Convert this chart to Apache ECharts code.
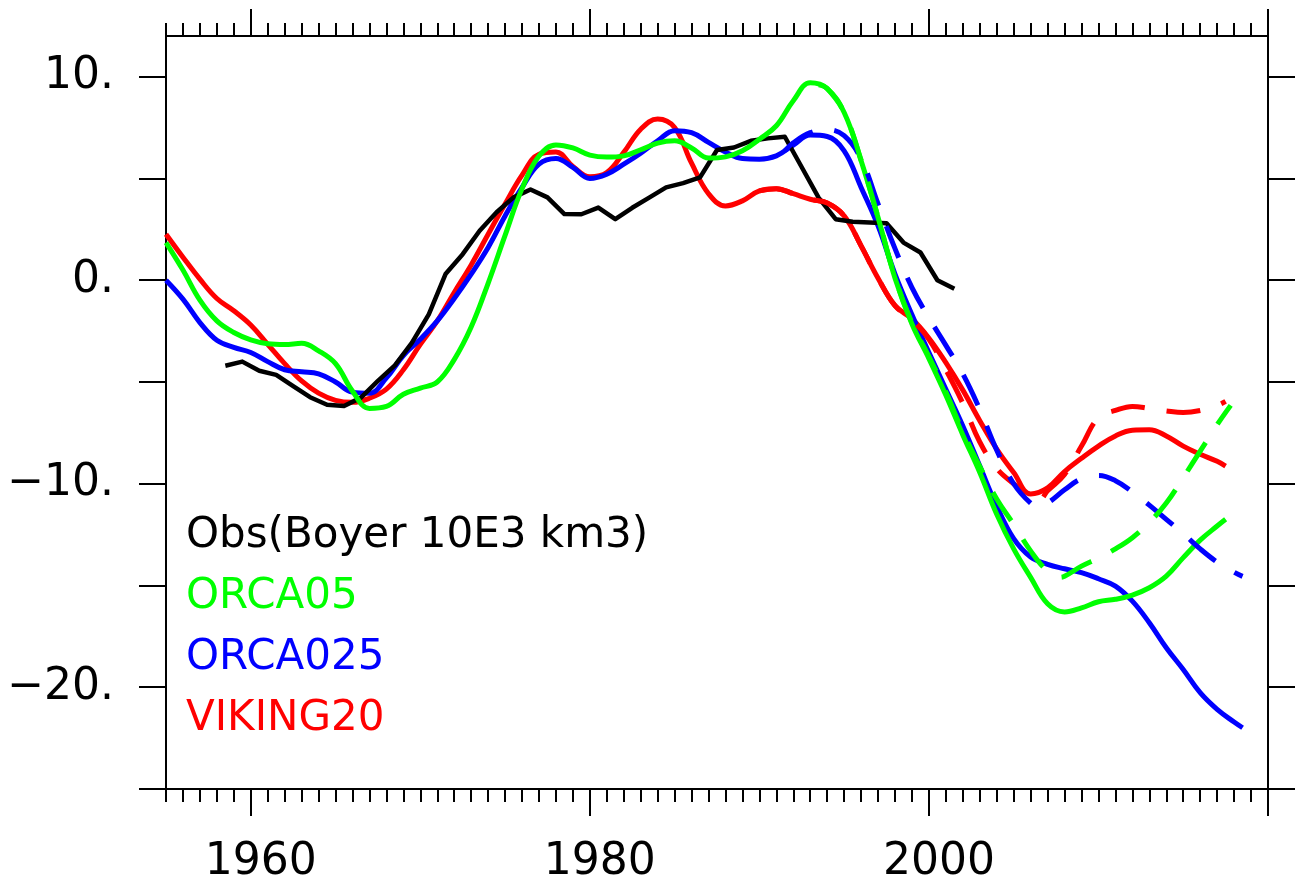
<!DOCTYPE html>
<html><head><meta charset="utf-8">
<script src="https://cdn.jsdelivr.net/npm/echarts@6/dist/echarts.min.js"></script>
<style>html,body{margin:0;padding:0;background:#fff}#c{width:1296px;height:882px}</style>
</head><body><div id="c"></div>
<script>
// ---- data ----
const obsName = 'Obs(Boyer 10E3 km3)';
const obsYears = [1958.5,1959.5,1960.5,1961.5,1962.5,1963.5,1964.5,1965.5,1966.5,1967.5,1968.5,1969.5,1970.5,1971.5,1972.5,1973.5,1974.5,1975.5,1976.5,1977.5,1978.5,1979.5,1980.5,1981.5,1982.5,1983.5,1984.5,1985.5,1986.5,1987.5,1988.5,1989.5,1990.5,1991.5,1992.5,1993.5,1994.5,1995.5,1996.5,1997.5,1998.5,1999.5,2000.5,2001.5];
const obsValues = [-4.2,-4.0,-4.45,-4.65,-5.2,-5.75,-6.12,-6.18,-5.77,-4.95,-4.18,-3.08,-1.68,0.32,1.28,2.43,3.34,4.07,4.46,4.07,3.25,3.24,3.57,3.0,3.56,4.06,4.56,4.77,5.05,6.4,6.52,6.85,6.97,7.05,5.55,4.05,3.0,2.87,2.84,2.8,1.85,1.36,0.0,-0.42];

const years = [1955,1956,1957,1958,1959,1960,1961,1962,1963,1964,1965,1966,1967,1968,1969,1970,1971,1972,1973,1974,1975,1976,1977,1978,1979,1980,1981,1982,1983,1984,1985,1986,1987,1988,1989,1990,1991,1992,1993,1994,1995,1996,1997,1998,1999,2000,2001,2002,2003,2004,2005,2006,2007,2008,2009,2010,2011,2012,2013,2014,2015,2016,2017];

const orca05Years = years.concat([2017.5]);
const orca05Values = [1.85,0.5,-0.98,-2.0,-2.57,-2.93,-3.12,-3.16,-3.1,-3.47,
  -4.1,-5.45,-6.3,-6.2,-5.6,-5.3,-5.0,-3.9,-2.3,-0.15,
  2.2,4.5,6.1,6.65,6.5,6.15,6.05,6.11,6.41,6.74,
  6.85,6.5,6.0,6.06,6.36,6.93,7.59,8.82,9.7,9.42,
  8.24,5.87,3.08,0.1,-2.15,-3.85,-5.65,-7.6,-9.45,-11.5,
  -13.2,-14.6,-15.9,-16.3,-16.1,-15.8,-15.68,-15.47,-15.11,-14.54,
  -13.63,-12.77,-12.08,-11.75];

const orca025Years = years.concat([2018,2018.5]);
const orca025Values = [0.0,-0.93,-2.08,-2.95,-3.3,-3.55,-4.0,-4.4,-4.5,-4.6,
  -5.0,-5.5,-5.55,-4.8,-3.7,-2.9,-2.0,-0.9,0.3,1.61,
  3.16,4.56,5.7,5.98,5.54,5.0,5.21,5.7,6.24,6.85,
  7.35,7.25,6.77,6.3,5.98,5.95,6.11,6.64,7.13,7.06,
  6.36,4.56,2.67,0.3,-1.7,-3.55,-5.36,-7.16,-9.13,-11.1,
  -12.7,-13.6,-13.96,-14.18,-14.37,-14.67,-15.03,-15.77,-16.83,-18.06,
  -19.13,-20.27,-21.09,-21.71,-21.99];

const viking20Years = years.concat([2017.5]);
const viking20Values = [2.26,1.13,0.05,-0.9,-1.5,-2.2,-3.15,-4.1,-4.95,-5.55,
  -5.9,-6.0,-5.8,-5.35,-4.4,-3.15,-2.0,-0.6,0.75,2.26,
  3.74,5.16,6.19,6.3,5.59,5.08,5.29,6.28,7.42,7.92,
  7.5,5.75,4.25,3.65,3.9,4.39,4.5,4.25,3.98,3.79,
  3.16,1.69,0.1,-1.25,-1.9,-2.85,-4.05,-5.4,-6.9,-8.3,
  -9.45,-10.5,-10.2,-9.4,-8.75,-8.15,-7.65,-7.37,-7.35,-7.65,
  -8.15,-8.55,-8.9,-9.13];

const orca05bYears = [1993.5,1994,1995,1996,1997,1998,1999,2000,2001,2002,2003,2004,2005,2006,2007,2007.7,2008,2009,2010,2011,2012,2013,2014,2015,2016,2017,2017.8];
const orca05bValues = [9.6,9.42,8.24,5.9,3.1,0.15,-2.1,-3.75,-5.5,-7.45,-9.15,-10.75,-12.0,-13.3,-14.3,-14.6,-14.55,-14.05,-13.65,-13.2,-12.65,-11.9,-10.95,-9.7,-8.4,-7.1,-6.15];

const orca025bYears = [1991.5,1992,1993,1994,1995,1996,1997,1998,1999,2000,2001,2002,2003,2004,2005,2006,2006.5,2007,2008,2009,2010,2011,2012,2013,2014,2015,2016,2017,2018,2018.5];
const orca025bValues = [6.35,6.75,7.25,7.4,7.1,5.95,3.75,1.55,-0.36,-1.85,-3.2,-4.6,-6.35,-8.35,-10.0,-10.95,-11.1,-10.95,-10.3,-9.75,-9.6,-9.85,-10.4,-11.05,-11.75,-12.45,-13.2,-13.85,-14.35,-14.55];

const viking20bYears = [1990,1991,1992,1993,1994,1995,1996,1997,1998,1999,2000,2001,2002,2003,2004,2005,2006,2006.5,2007,2008,2009,2010,2011,2012,2013,2014,2015,2016,2017,2017.5];
const viking20bValues = [4.39,4.5,4.25,3.98,3.79,3.16,1.69,0.1,-1.25,-1.95,-2.9,-4.4,-6.05,-7.95,-9.25,-10.0,-10.6,-10.8,-10.35,-9.55,-8.15,-6.75,-6.4,-6.2,-6.3,-6.42,-6.5,-6.4,-6.15,-5.95];

const xLabelValues = [1960, 1980, 2000];
const xMajorTicks = [1960, 1980, 2000, 2020];
const yLabelValues = [10, 0, -10, -20];
const yTickValues = [-25, -20, -15, -10, -5, 0, 5, 10];

// ---- build ----
const xMinorTicks = [];
for (let y = 1955; y <= 2020; y++) xMinorTicks.push(y);
function pairs(xs, ys) { return xs.map((x, i) => [x, ys[i]]); }

const FONT = 'DejaVu Sans';
const BLACK = '#000000', GREEN = '#00ff00', BLUE = '#0000ff', RED = '#ff0000';
const tickLine = { color: '#000', width: 2 };

function xAxisDef(position, ticks, len, labels, showLine) {
  return {
    type: 'value', position: position, min: 1955, max: 2020,
    axisLine: { show: showLine, onZero: false, lineStyle: { color: '#000', width: 2 } },
    axisTick: { show: true, customValues: ticks, length: len, inside: false, lineStyle: tickLine },
    axisLabel: labels ? { show: true, customValues: labels, color: '#000', fontFamily: FONT, fontSize: 44, margin: 52, padding: [0, 0, 0, 20], formatter: v => String(v) } : { show: false },
    splitLine: { show: false }
  };
}
function yAxisDef(position, labels) {
  return {
    type: 'value', position: position, min: -25, max: 12,
    axisLine: { show: true, onZero: false, lineStyle: { color: '#000', width: 2 } },
    axisTick: { show: true, customValues: yTickValues, length: 27, inside: false, lineStyle: tickLine },
    axisLabel: labels ? { show: true, customValues: labels, color: '#000', fontFamily: FONT, fontSize: 44, margin: 52,
      formatter: v => (v < 0 ? '\u2212' + Math.abs(v) : String(v)) + '.' } : { show: false },
    splitLine: { show: false }
  };
}
function lineSeries(name, xs, ys, color, dashed, smooth, z, width) {
  return {
    type: 'line', name: name, data: pairs(xs, ys), xAxisIndex: 0, yAxisIndex: 0,
    symbol: 'none', showSymbol: false, smooth: smooth, z: z,
    lineStyle: { color: color, width: width, type: dashed ? [34, 22] : 'solid', cap: 'butt', join: 'round' },
    itemStyle: { color: color }, emphasis: { disabled: true }, animation: false
  };
}

const chart = echarts.init(document.getElementById('c'), null, { renderer: 'canvas' });
chart.setOption({
  animation: false,
  backgroundColor: '#ffffff',
  grid: { left: 166, right: 28, top: 36, bottom: 93, containLabel: false, outerBoundsMode: 'none' },
  xAxis: [
    xAxisDef('bottom', xMajorTicks, 27, xLabelValues, true),
    xAxisDef('bottom', xMinorTicks, 13, null, false),
    xAxisDef('top', xMajorTicks, 27, null, true),
    xAxisDef('top', xMinorTicks, 13, null, false)
  ],
  yAxis: [ yAxisDef('left', yLabelValues), yAxisDef('right', null) ],
  legend: {
    orient: 'vertical', left: 181, top: 515, padding: 0, itemGap: 19,
    itemWidth: 0, itemHeight: 0, icon: 'rect', selectedMode: false,
    textStyle: { fontFamily: FONT, fontSize: 42, lineHeight: 41 },
    data: [
      { name: obsName, textStyle: { color: BLACK } },
      { name: 'ORCA05', textStyle: { color: GREEN } },
      { name: 'ORCA025', textStyle: { color: BLUE } },
      { name: 'VIKING20', textStyle: { color: RED } }
    ]
  },
  series: [
    lineSeries('VIKING20', viking20Years, viking20Values, RED, false, 0.4, 2, 5),
    lineSeries('ORCA025', orca025Years, orca025Values, BLUE, false, 0.4, 3, 5),
    lineSeries(obsName, obsYears, obsValues, BLACK, false, false, 4, 4.5),
    lineSeries('ORCA05', orca05Years, orca05Values, GREEN, false, 0.4, 5, 5),
    lineSeries('VIKING20 (dashed)', viking20bYears, viking20bValues, RED, true, 0.4, 6, 5),
    lineSeries('ORCA025 (dashed)', orca025bYears, orca025bValues, BLUE, true, 0.4, 7, 5),
    lineSeries('ORCA05 (dashed)', orca05bYears, orca05bValues, GREEN, true, 0.4, 8, 5)
  ]
});
</script></body></html>
